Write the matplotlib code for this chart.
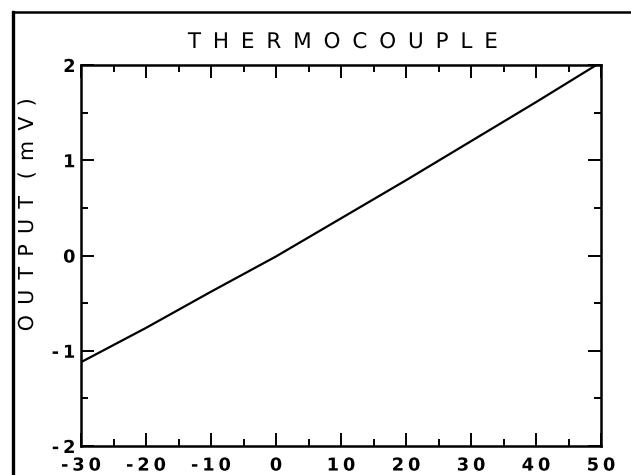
import numpy as np
import matplotlib
matplotlib.use("Agg")
import matplotlib.pyplot as plt
from matplotlib.lines import Line2D
from matplotlib.path import Path
from matplotlib.patheffects import AbstractPathEffect
from matplotlib.textpath import text_to_path

# Thermocouple output versus temperature
temperature = [-30, -20, -10, 0, 10, 20, 30, 40, 50]
output_mv = [-1.12, -0.76, -0.38, -0.01, 0.39, 0.79, 1.20, 1.61, 2.03]

x_tick_values = [-30, -20, -10, 0, 10, 20, 30, 40, 50]
x_tick_labels = ["-30", "-20", "-10", "0", "10", "20", "30", "40", "50"]
y_tick_values = [-2, -1, 0, 1, 2]
y_tick_labels = ["-2", "-1", "0", "1", "2"]

title_text = "THERMOCOUPLE"
ylabel_text = "OUTPUT (mV)"


class LetterSpacing(AbstractPathEffect):
    """Spread glyphs apart like a pen-plotter font."""

    def __init__(self, spacing_em, anchor=0.5):
        super().__init__()
        self.step = spacing_em * text_to_path.FONT_SCALE
        self.anchor = anchor

    def draw_path(self, renderer, gc, tpath, affine, rgbFace=None):
        codes = tpath.codes
        if codes is None or len(codes) == 0:
            renderer.draw_path(gc, tpath, affine, rgbFace)
            return
        verts = tpath.vertices.copy()
        starts = list(np.flatnonzero(codes == Path.MOVETO)) + [len(codes)]
        pieces = []
        for a, b in zip(starts[:-1], starts[1:]):
            keep = codes[a:b] != Path.CLOSEPOLY
            xs = verts[a:b, 0][keep]
            if len(xs) == 0:
                continue
            pieces.append((xs.min(), xs.max(), a, b))
        pieces.sort()
        k = -1
        right = -np.inf
        for x0, x1, a, b in pieces:
            if x0 > right:
                k += 1
                right = x1
            else:
                right = max(right, x1)
            verts[a:b, 0] += k * self.step
        verts[:, 0] -= max(k, 0) * self.step * self.anchor
        renderer.draw_path(gc, Path(verts, codes), affine, rgbFace)


W, H = 631, 475
fig = plt.figure(figsize=(W / 100, H / 100), dpi=100)
fig.patch.set_facecolor("white")

ax_left, ax_right, ax_top, ax_bottom = 81, 601, 65, 446
ax = fig.add_axes([ax_left / W, 1 - ax_bottom / H,
                   (ax_right - ax_left) / W, (ax_bottom - ax_top) / H])

ax.plot(temperature, output_mv, color="black", lw=1.6, solid_capstyle="butt")
ax.set_xlim(-30, 50)
ax.set_ylim(-2, 2)

for sp in ax.spines.values():
    sp.set_linewidth(1.8)

ax.set_xticks(x_tick_values)
ax.set_xticklabels(x_tick_labels)
ax.set_xticks(np.arange(-25, 50, 10), minor=True)
ax.set_yticks(y_tick_values)
ax.set_yticklabels(y_tick_labels)
ax.set_yticks(np.arange(-1.5, 2, 1.0), minor=True)

ax.tick_params(which="both", direction="in", top=True, right=True,
               width=1.4, color="black")
ax.tick_params(which="major", length=9.5)
ax.tick_params(which="minor", length=5)
ax.tick_params(axis="x", which="major", pad=7.6)
ax.tick_params(axis="y", which="major", pad=4)

for lbl in ax.get_xticklabels():
    lbl.set_fontsize(12.8)
    lbl.set_fontweight("bold")
    lbl.set_path_effects([LetterSpacing(0.22, 0.5)])
for lbl in ax.get_yticklabels():
    lbl.set_fontsize(12.8)
    lbl.set_fontweight("bold")
    lbl.set_path_effects([LetterSpacing(0.22, 1.0)])

fig.text(343 / W, 1 - 48 / H, title_text, ha="center", va="baseline",
         fontsize=15.5, color="black",
         path_effects=[LetterSpacing(0.55, 0.5)])

fig.text(33 / W, 1 - 215 / H, ylabel_text, ha="center", va="baseline",
         rotation=90, rotation_mode="anchor", fontsize=14.8, color="black",
         path_effects=[LetterSpacing(0.5, 0.5)])

# Outer frame: left and top rules
fig.add_artist(Line2D([13 / W, 13 / W], [0, 1 - 12 / H],
                      transform=fig.transFigure, color="black", lw=2.4,
                      solid_capstyle="projecting"))
fig.add_artist(Line2D([13 / W, 1], [1 - 12 / H, 1 - 12 / H],
                      transform=fig.transFigure, color="black", lw=1.8,
                      solid_capstyle="projecting"))

fig.savefig("out.png", dpi=100, facecolor="white")
